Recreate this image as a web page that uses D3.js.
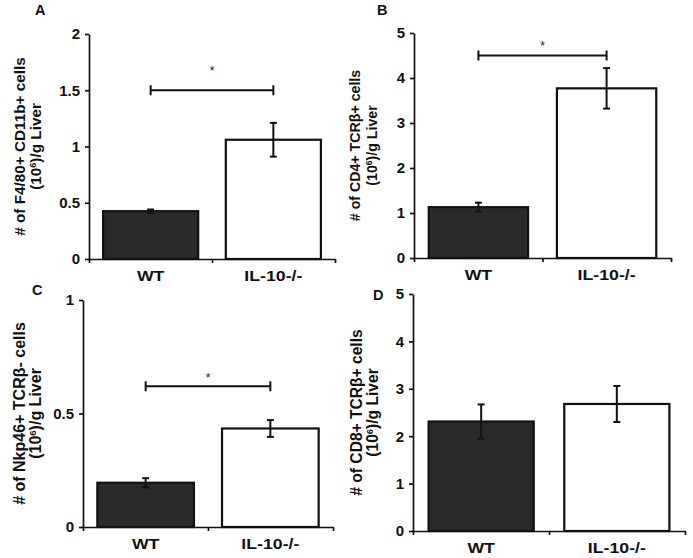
<!DOCTYPE html>
<html>
<head>
<meta charset="utf-8">
<script src="https://cdn.jsdelivr.net/npm/d3@7"></script>
<style>
  html, body { margin: 0; padding: 0; background: #fff; }
  svg { display: block; }
  text { font-family: "Liberation Sans", Arial, sans-serif; fill: #111; }
</style>
</head>
<body>
<svg id="chart" width="693" height="558"></svg>
<script>
// ---------------- data ----------------
const categories = ["WT", "IL-10-/-"];
const panelLetters = ["A", "B", "C", "D"];
const titleLine1 = [
  "# of F4/80+ CD11b+ cells",
  "# of CD4+ TCRβ+ cells",
  "# of Nkp46+ TCRβ- cells",
  "# of CD8+ TCRβ+ cells"
];
const meansA = [0.425, 1.06];
const errsA  = [0.015, 0.15];
const meansB = [1.13, 3.77];
const errsB  = [0.10, 0.45];
const meansC = [0.195, 0.434];
const errsC  = [0.02, 0.037];
const meansD = [2.31, 2.68];
const errsD  = [0.36, 0.38];
const yMax   = [2, 5, 1, 5];
const ticksA = [0, 0.5, 1, 1.5, 2];
const ticksB = [0, 1, 2, 3, 4, 5];
const ticksC = [0, 0.5, 1];
const ticksD = [0, 1, 2, 3, 4, 5];
const tickLabelsA = ["0", "0.5", "1", "1.5", "2"];
const tickLabelsB = ["0", "1", "2", "3", "4", "5"];
const tickLabelsC = ["0", "0.5", "1"];
const tickLabelsD = ["0", "1", "2", "3", "4", "5"];
const sigLevel = [1.5, 4.5, 0.62, null];   // bracket value
const starLevel = [1.7, 4.78, 0.67, null];  // asterisk value

// ---------------- layout ----------------
const layout = [
  { x0: 89,  x1: 335, y0: 259, y1: 34,  t1: -64, t2: -48, tf: 15.3, lx: 35,  ly: 15 },
  { x0: 414, x1: 671, y0: 258, y1: 33,  t1: -54, t2: -37, tf: 14.2, lx: 377, ly: 15 },
  { x0: 83,  x1: 333, y0: 527, y1: 300, t1: -58, t2: -42, tf: 16.0, lx: 32,  ly: 295 },
  { x0: 413, x1: 685, y0: 531, y1: 294, t1: -51, t2: -35, tf: 15.6, lx: 373, ly: 300 }
];
const panels = [
  { means: meansA, errs: errsA, ticks: ticksA, labels: tickLabelsA },
  { means: meansB, errs: errsB, ticks: ticksB, labels: tickLabelsB },
  { means: meansC, errs: errsC, ticks: ticksC, labels: tickLabelsC },
  { means: meansD, errs: errsD, ticks: ticksD, labels: tickLabelsD }
];
const barFills = ["#2a2a2a", "#ffffff"];

const svg = d3.select("#chart");

panels.forEach((p, i) => {
  const L = layout[i];
  const g = svg.append("g");

  const y = d3.scaleLinear().domain([0, yMax[i]]).range([L.y0, L.y1]);
  const x = d3.scaleBand().domain(categories).range([L.x0, L.x1])
    .paddingInner(0.225).paddingOuter(0.115);
  const xEdge = d3.scaleLinear().domain([0, categories.length]).range([L.x0, L.x1]);

  // bars
  g.selectAll("rect.bar").data(p.means).join("rect")
    .attr("x", (d, j) => x(categories[j]))
    .attr("y", d => y(d))
    .attr("width", x.bandwidth())
    .attr("height", d => y(0) - y(d))
    .attr("fill", (d, j) => barFills[j])
    .attr("stroke", "#111")
    .attr("stroke-width", 2.2);

  // error bars
  const cap = 3.5;
  p.means.forEach((m, j) => {
    const cx = x(categories[j]) + x.bandwidth() / 2;
    const e = p.errs[j];
    const eg = g.append("g").attr("stroke", "#111").attr("stroke-width", 2);
    eg.append("line").attr("x1", cx).attr("x2", cx).attr("y1", y(m + e)).attr("y2", y(m - e));
    eg.append("line").attr("x1", cx - cap).attr("x2", cx + cap).attr("y1", y(m + e)).attr("y2", y(m + e));
    eg.append("line").attr("x1", cx - cap).attr("x2", cx + cap).attr("y1", y(m - e)).attr("y2", y(m - e));
  });

  // y axis
  const yAxis = d3.axisLeft(y).tickValues(p.ticks)
    .tickFormat((d, k) => p.labels[k]).tickSizeInner(4).tickSizeOuter(0).tickPadding(5);
  const ya = g.append("g").attr("transform", `translate(${L.x0},0)`).call(yAxis);
  ya.select(".domain").attr("stroke", "#111").attr("stroke-width", 1.7);
  ya.selectAll(".tick line").attr("stroke", "#111").attr("stroke-width", 1.7);
  ya.selectAll(".tick text").attr("font-size", 15).attr("font-weight", "bold")
    .attr("font-family", "Liberation Sans, Arial, sans-serif").attr("fill", "#111");

  // x axis (ticks at category boundaries)
  const xAxis = d3.axisBottom(xEdge).tickValues(d3.range(categories.length + 1))
    .tickFormat("").tickSizeInner(4).tickSizeOuter(0);
  const xa = g.append("g").attr("transform", `translate(0,${L.y0})`).call(xAxis);
  xa.select(".domain").attr("stroke", "#111").attr("stroke-width", 1.7);
  xa.selectAll(".tick line").attr("stroke", "#111").attr("stroke-width", 1.7);

  // category labels
  categories.forEach(c => {
    g.append("g")
      .attr("transform", `translate(${x(c) + x.bandwidth() / 2},${L.y0 + 22}) scale(1.18,1)`)
      .append("text")
      .attr("text-anchor", "middle")
      .attr("font-size", 15).attr("font-weight", "bold")
      .text(c);
  });

  // y title
  const yc = (L.y0 + L.y1) / 2;
  g.append("text")
    .attr("transform", `translate(${L.x0 + L.t1},${yc}) rotate(-90)`)
    .attr("text-anchor", "middle").attr("font-size", L.tf).attr("font-weight", "bold")
    .text(titleLine1[i]);
  const t2 = g.append("text")
    .attr("transform", `translate(${L.x0 + L.t2},${yc}) rotate(-90)`)
    .attr("text-anchor", "middle").attr("font-size", L.tf).attr("font-weight", "bold");
  t2.append("tspan").text("(10");
  t2.append("tspan").attr("font-size", L.tf * 0.6).attr("dy", -5).text("6");
  t2.append("tspan").attr("dy", 5).text(")/g Liver");

  // panel letter
  svg.append("text").attr("x", L.lx).attr("y", L.ly)
    .attr("font-size", 14.5).attr("font-weight", "bold").text(panelLetters[i]);

  // significance bracket
  if (sigLevel[i] !== null) {
    const xa0 = x(categories[0]) + x.bandwidth() / 2;
    const xa1 = x(categories[1]) + x.bandwidth() / 2;
    const sy = y(sigLevel[i]);
    const bg = g.append("g").attr("stroke", "#111").attr("stroke-width", 2);
    bg.append("line").attr("x1", xa0).attr("x2", xa1).attr("y1", sy).attr("y2", sy);
    bg.append("line").attr("x1", xa0).attr("x2", xa0).attr("y1", sy - 5).attr("y2", sy + 5);
    bg.append("line").attr("x1", xa1).attr("x2", xa1).attr("y1", sy - 5).attr("y2", sy + 5);
    g.append("text").attr("x", (xa0 + xa1) / 2).attr("y", y(starLevel[i]) + 7)
      .attr("text-anchor", "middle").attr("font-size", 12).text("*");
  }
});
</script>
</body>
</html>
